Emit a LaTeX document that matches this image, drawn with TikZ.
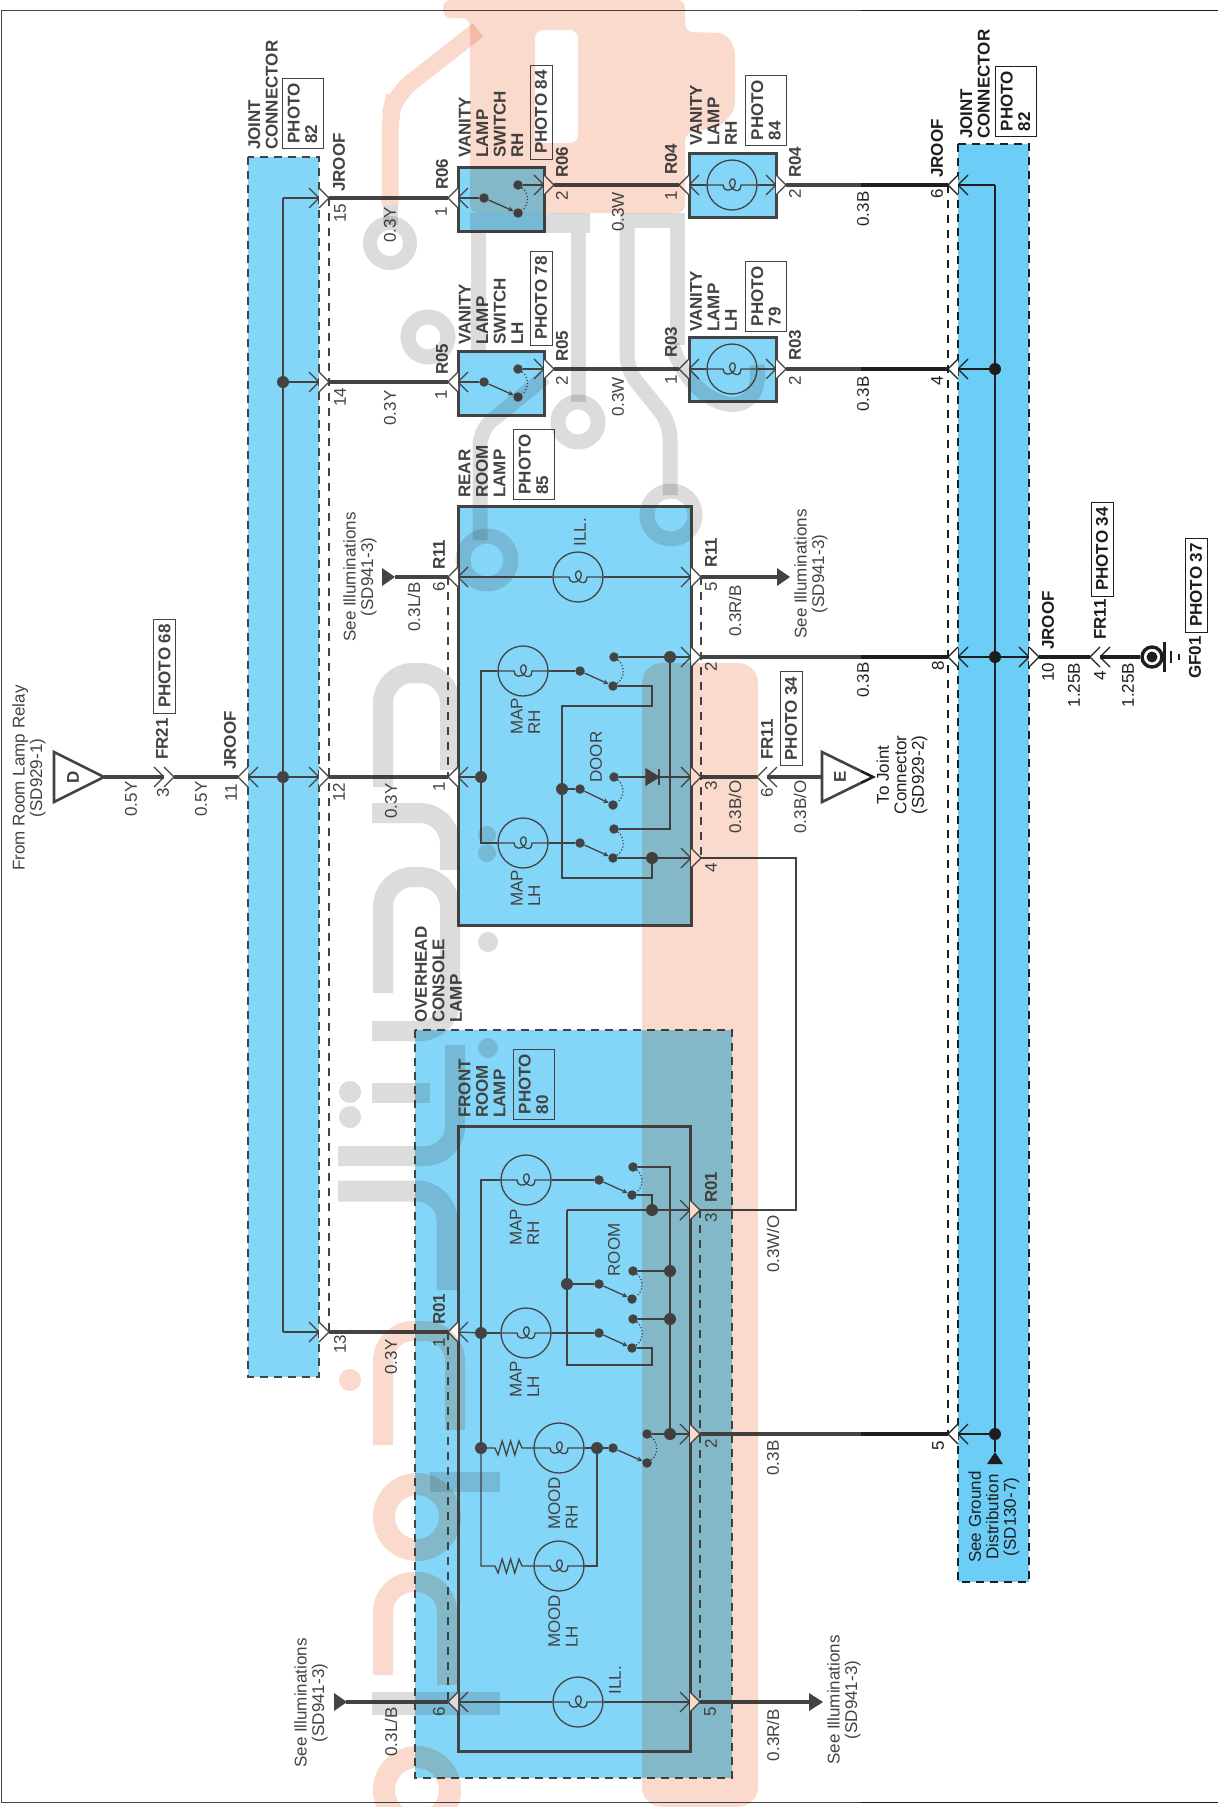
\documentclass[tikz,border=0pt]{standalone}
\usepackage{fontspec}
\setmainfont{Liberation Sans}
\usetikzlibrary{arrows}
\definecolor{ink}{HTML}{1E1E1E}
\definecolor{jcblue}{HTML}{6CCEF7}
\definecolor{wmorange}{HTML}{F8D3C4}
\definecolor{wmgrey}{HTML}{D5D5D5}
\tikzstyle{jcbox} = [fill=jcblue, draw=ink, line width=2.8pt, dash pattern=on 8pt off 6pt]
\tikzstyle{unitbox} = [fill=jcblue, draw=ink, line width=3pt]
\tikzstyle{openbox} = [draw=ink, line width=3pt]
\tikzstyle{wire} = [draw=ink, line width=3.1pt]
\tikzstyle{thinw} = [draw=ink, line width=1.3pt]
\tikzstyle{pinline} = [draw=ink, line width=1.2pt]
\tikzstyle{connline} = [draw=ink, line width=1.2pt, dash pattern=on 8pt off 7pt]
\tikzstyle{jdot} = [circle, fill=ink, inner sep=0pt, minimum size=12pt]
\tikzstyle{cdot} = [circle, fill=ink, inner sep=0pt, minimum size=9.5pt]
\tikzstyle{bulb} = [circle, draw=ink, line width=1.3pt, inner sep=0pt, minimum size=50pt]
\tikzstyle{lab} = [rotate=90, text=ink, font=\fontsize{17}{17.5}\selectfont, align=center, inner sep=0pt]
\tikzstyle{blab} = [rotate=90, text=ink, font=\fontsize{17}{17.5}\selectfont\bfseries, align=left, anchor=west, inner sep=0pt]
\tikzstyle{photobox} = [rotate=90, draw=ink, line width=1pt, text=ink, font=\fontsize{17}{17.5}\selectfont\bfseries, align=left, inner sep=0pt, minimum width=94pt, minimum height=22pt]
\tikzstyle{photoboxb} = [photobox, minimum width=70pt, minimum height=41pt]
\newcommand{\pinR}[3]{
  \coordinate (#1i) at (#2,#3);
  \coordinate (#1o) at (#2+10,#3);
  \draw[pinline] (#2-10,#3-10) -- (#2,#3) -- (#2-10,#3+10);
  \draw[pinline, fill=white] (#2,#3-10) -- (#2+10,#3) -- (#2,#3+10);
}
\newcommand{\pinL}[3]{
  \coordinate (#1i) at (#2,#3);
  \coordinate (#1o) at (#2-10,#3);
  \draw[pinline] (#2+10,#3-10) -- (#2,#3) -- (#2+10,#3+10);
  \draw[pinline, fill=white] (#2,#3-10) -- (#2-10,#3) -- (#2,#3+10);
}
\newcommand{\lampsym}[3]{
  \node (#1) [bulb] at (#2,#3) {};
  \draw[thinw] (#1.west) -- (#2-9,#3) .. controls (#2-9,#3+6) and (#2-2,#3+7) .. (#2+2,#3+2)
    .. controls (#2+5,#3-3) and (#2+2,#3-7) .. (#2,#3-6)
    .. controls (#2-3,#3-5) and (#2-4,#3) .. (#2+1,#3+4)
    .. controls (#2+5,#3+7) and (#2+9,#3+6) .. (#2+9,#3) -- (#1.east);
}
\newcommand{\switchsym}[7]{
  \node (#1a) [cdot] at (#2,#3) {};
  \node (#1b) [cdot] at (#4,#5) {};
  \node (#1c) [cdot] at (#6,#7) {};
  \draw[thinw, ->, >=stealth] (#1a) -- (#1b);
  \draw[line width=1.2pt, draw=ink, dotted] (#1c) to[bend left=55] (#1b);
}
\newcommand{\ressym}[2]{
  -- (#1,#2) -- ++(3,7) -- ++(4.2,-14) -- ++(4.2,14) -- ++(4.2,-14) -- ++(4.2,14) -- ++(4.2,-14) -- ++(3,7)
}
\begin{document}
\begin{tikzpicture}[x=1pt, y=-1pt]
  \useasboundingbox (0,0) rectangle (1218,1807);
  \fill[white] (0,0) rectangle (1218,1807);
  \draw[draw=ink, line width=1pt] (1,10) rectangle (1218,1802);

  \draw[jcbox] (248,157) rectangle (319,1377);
  \draw[jcbox] (958,144) rectangle (1029,1582);
  \draw[jcbox, line width=2.4pt] (415,1030) rectangle (732,1778);
  \draw[unitbox] (458,167) rectangle (544,231);
  \draw[unitbox] (458,351) rectangle (544,415);
  \draw[unitbox] (689,153) rectangle (776,217);
  \draw[unitbox] (689,337) rectangle (776,401);
  \draw[unitbox] (458,506) rectangle (691,925);
  \draw[openbox] (458,1126) rectangle (690,1751);

  \pinR{jlo}{319}{198}
  \pinR{jln}{319}{382}
  \pinR{jlt}{319}{777}
  \pinR{jlh}{319}{1332}
  \pinL{jle}{248}{777}
  \pinL{jrs}{958}{185}
  \pinL{jrf}{958}{369}
  \pinL{jre}{958}{657}
  \pinL{jrv}{958}{1434}
  \pinR{jrt}{1029}{657}
  \pinR{frtwo}{164}{777}
  \pinL{froa}{767}{777}
  \pinL{frob}{1100}{657}
  \pinL{swra}{458}{198}
  \pinR{swrb}{544}{185}
  \pinL{swla}{458}{382}
  \pinR{swlb}{544}{369}
  \pinL{lpra}{689}{185}
  \pinR{lprb}{776}{185}
  \pinL{lpla}{689}{369}
  \pinR{lplb}{776}{369}
  \pinL{rra}{458}{577}
  \pinR{rrb}{691}{577}
  \pinL{rrc}{458}{777}
  \pinR{rrd}{691}{657}
  \pinR{rre}{691}{777}
  \pinR{rrf}{691}{858}
  \pinL{fra}{458}{1332}
  \pinR{frb}{690}{1210}
  \pinR{frc}{690}{1434}
  \pinL{frd}{458}{1702}
  \pinR{fre}{690}{1702}

  \draw[connline] (jloo) -- (jlho);
  \draw[connline] (jrso) -- (jrvo);
  \draw[connline] (rrao) -- (rrco);
  \draw[connline] (rrbo) -- (rrfo);
  \draw[connline] (frao) -- (frdo);
  \draw[connline] (frbo) -- (freo);

  \node (dtri) [minimum size=0pt, inner sep=0pt] at (104,777) {};
  \draw[draw=ink, line width=2.6pt, fill=white, line join=miter] (54,752) -- (dtri.center) -- (54,802) -- cycle;
  \node (dlet) [blab, anchor=center] at (73,777) {D};
  \node (etri) [minimum size=0pt, inner sep=0pt] at (822,777) {};
  \draw[draw=ink, line width=2.6pt, fill=white, line join=miter] (etri.center) -- (822,752) -- (873,777) -- (822,802) -- cycle;
  \node (elet) [blab, anchor=center] at (840,777) {E};
  \node (gcirc) [circle, draw=ink, line width=3.4pt, inner sep=0pt, minimum size=20pt] at (1152,657) {};
  \node (gdot) [circle, fill=ink, inner sep=0pt, minimum size=11pt] at (1152,657) {};
  \draw[draw=ink, line width=3pt] (1164,642) -- (1164,672);
  \draw[draw=ink, line width=1.6pt] (1171,651) -- (1171,663);
  \draw[draw=ink, line width=1.6pt] (1179,654) -- (1179,660);

  \draw[wire] (dtri) -- (frtwoi);
  \draw[wire] (frtwoo) -- (jleo);
  \draw[wire] (jloo) -- (swrao);
  \draw[wire] (jlno) -- (swlao);
  \draw[wire] (jlto) -- (rrco);
  \draw[wire] (jlho) -- (frao);
  \draw[wire] (swrbo) -- (lprao);
  \draw[wire] (swlbo) -- (lplao);
  \draw[wire] (lprbo) -- (jrso);
  \draw[wire] (lplbo) -- (jrfo);
  \draw[wire] (rrdo) -- (jreo);
  \draw[wire] (frco) -- (jrvo);
  \draw[wire] (rreo) -- (froao);
  \draw[wire] (froai) -- (etri);
  \draw[wire] (jrto) -- (frobo);
  \draw[wire] (frobi) -- (gcirc);
  \draw[draw=ink, line width=2.6pt, line join=miter] (rrfo) -- (796,858) -- (796,1210) -- (frbo);

  \coordinate (illrl) at (395,577);
  \coordinate (illrr) at (777,577);
  \coordinate (illfl) at (346,1702);
  \coordinate (illfr) at (809,1702);
  \draw[wire, line width=3.4pt] (illrl) -- (rrao);
  \draw[wire, line width=3.4pt] (rrbo) -- (illrr);
  \draw[wire, line width=3.4pt] (illfl) -- (frdo);
  \draw[wire, line width=3.4pt] (freo) -- (illfr);
  \fill[ink] (382,568) -- (395,577) -- (382,586) -- cycle;
  \fill[ink] (777,568) -- (790,577) -- (777,586) -- cycle;
  \fill[ink] (334,1693) -- (347,1702) -- (334,1711) -- cycle;
  \fill[ink] (809,1693) -- (823,1702) -- (809,1711) -- cycle;

  \node (blc) [jdot] at (283,382) {};
  \node (blm) [jdot] at (283,777) {};
  \draw[thinw] (283,198) -- (283,1332);
  \draw[thinw] (283,198) -- (jloi);
  \draw[thinw] (blc) -- (jlni);
  \draw[thinw] (jlei) -- (jlti);
  \draw[thinw] (283,1332) -- (jlhi);

  \node (brc) [jdot] at (995,369) {};
  \node (brm) [jdot] at (995,657) {};
  \node (brb) [jdot] at (995,1434) {};
  \draw[thinw] (995,185) -- (995,1452);
  \draw[thinw] (995,185) -- (jrsi);
  \draw[thinw] (brc) -- (jrfi);
  \draw[thinw] (jrei) -- (jrti);
  \draw[thinw] (brb) -- (jrvi);
  \fill[ink] (995,1452) -- (1003,1464) -- (987,1464) -- cycle;

  \switchsym{swr}{484}{198}{518}{213}{518}{185}
  \draw[thinw] (swra) -- (swrai);
  \draw[thinw] (swrc) -- (swrbi);
  \switchsym{swl}{484}{382}{518}{397}{518}{369}
  \draw[thinw] (swla) -- (swlai);
  \draw[thinw] (swlc) -- (swlbi);

  \lampsym{lmr}{732}{185}
  \draw[thinw] (lprai) -- (lmr);
  \draw[thinw] (lmr) -- (lprbi);
  \lampsym{lml}{732}{369}
  \draw[thinw] (lplai) -- (lml);
  \draw[thinw] (lml) -- (lplbi);

  \lampsym{rill}{578}{577}
  \draw[thinw] (rrai) -- (rill);
  \draw[thinw] (rill) -- (rrbi);
  \lampsym{rmr}{523}{671}
  \lampsym{rml}{523}{843}
  \switchsym{rsr}{580}{671}{613}{686}{614}{657}
  \switchsym{rsd}{580}{789}{613}{805}{614}{777}
  \switchsym{rsl}{580}{843}{613}{858}{614}{829}
  \node (rjr) [jdot] at (670,657) {};
  \node (rjl) [jdot] at (652,858) {};
  \node (rjd) [jdot] at (562,789) {};
  \node (rjc) [jdot] at (481,777) {};
  \draw[thinw] (rrci) -- (rjc);
  \draw[thinw] (rmr.west) -- (481,671) -- (481,843) -- (rml.west);
  \draw[thinw] (rmr.east) -- (rsra);
  \draw[thinw] (rml.east) -- (rsla);
  \draw[thinw] (rsrc) -- (rrdi);
  \draw[thinw] (rjr) -- (670,829) -- (rslc);
  \draw[thinw] (rsrb) -- (652,686) -- (652,706) -- (562,706) -- (562,878) -- (652,878) -- (rjl);
  \draw[thinw] (rjd) -- (rsda);
  \draw[thinw] (rslb) -- (rrfi);
  \draw[thinw] (rsdc) -- (rrei);
  \draw[draw=ink, fill=ink, line width=1.2pt] (646,769) -- (659,777) -- (646,785) -- cycle;
  \draw[draw=ink, line width=1.6pt] (659,769) -- (659,785);

  \lampsym{fill}{578}{1702}
  \draw[thinw] (frdi) -- (fill);
  \draw[thinw] (fill) -- (frei);
  \lampsym{fmr}{526}{1180}
  \lampsym{fml}{526}{1333}
  \lampsym{fmdr}{559}{1448}
  \lampsym{fmdl}{559}{1566}
  \switchsym{fsr}{599}{1180}{632}{1195}{633}{1167}
  \switchsym{fsd}{599}{1284}{632}{1299}{633}{1271}
  \switchsym{fsl}{599}{1333}{632}{1348}{633}{1319}
  \switchsym{fsm}{613}{1448}{647}{1463}{647}{1434}
  \node (fja) [jdot] at (481,1333) {};
  \node (fjb) [jdot] at (481,1448) {};
  \node (fjc) [jdot] at (597,1448) {};
  \node (fjd) [jdot] at (670,1271) {};
  \node (fje) [jdot] at (670,1319) {};
  \node (fjf) [jdot] at (670,1434) {};
  \node (fjg) [jdot] at (652,1210) {};
  \node (fjh) [jdot] at (567,1284) {};
  \draw[thinw] (frai) -- (fja);
  \draw[thinw] (fja) -- (fml);
  \draw[thinw] (fmr.west) -- (481,1180) -- (fjb);
  \draw[thinw] (fjb) -- (481,1566) \ressym{495}{1566} -- (fmdl.west);
  \draw[thinw] (fjb) \ressym{495}{1448} -- (fmdr.west);
  \draw[thinw] (fmdl.east) -- (597,1566) -- (fjc);
  \draw[thinw] (fmdr.east) -- (fjc) -- (fsma);
  \draw[thinw] (fmr.east) -- (fsra);
  \draw[thinw] (fml.east) -- (fsla);
  \draw[thinw] (fsrc) -- (670,1167) -- (fjf);
  \draw[thinw] (fsdc) -- (fjd);
  \draw[thinw] (fslc) -- (fje);
  \draw[thinw] (fsmc) -- (frci);
  \draw[thinw] (fsrb) -- (652,1195) -- (fjg);
  \draw[thinw] (567,1210) -- (frbi);
  \draw[thinw] (567,1210) -- (567,1365) -- (652,1365) -- (652,1348) -- (fslb);
  \draw[thinw] (fjh) -- (fsda);

  \node (tjl) [blab] at (263,150) {JOINT\\CONNECTOR};
  \node (tjr) [blab] at (975,139) {JOINT\\CONNECTOR};
  \node (tjra) [blab] at (339,192) {JROOF};
  \node (tjrb) [blab] at (937,178) {JROOF};
  \node (tjrc) [blab] at (1048,650) {JROOF};
  \node (tjrd) [blab] at (230,770) {JROOF};
  \node (tvsr) [blab] at (491,158) {VANITY\\LAMP\\SWITCH\\RH};
  \node (tvsl) [blab] at (491,345) {VANITY\\LAMP\\SWITCH\\LH};
  \node (tvlr) [blab] at (713.5,146) {VANITY\\LAMP\\RH};
  \node (tvll) [blab] at (713.5,332) {VANITY\\LAMP\\LH};
  \node (trear) [blab] at (482,498) {REAR\\ROOM\\LAMP};
  \node (tfront) [blab] at (482,1118) {FRONT\\ROOM\\LAMP};
  \node (tover) [blab] at (438.5,1023) {OVERHEAD\\CONSOLE\\LAMP};
  \node (trsa) [blab] at (442,190) {R06};
  \node (trsb) [blab] at (562,178) {R06};
  \node (trfa) [blab] at (671,175) {R04};
  \node (trfb) [blab] at (795,178) {R04};
  \node (trva) [blab] at (442,375) {R05};
  \node (trvb) [blab] at (562,362) {R05};
  \node (trta) [blab] at (671,358) {R03};
  \node (trtb) [blab] at (795,361) {R03};
  \node (trea) [blab] at (439,570) {R11};
  \node (treb) [blab] at (711,568) {R11};
  \node (troa) [blab] at (439,1325) {R01};
  \node (trob) [blab] at (711,1203) {R01};
  \node (tfra) [blab] at (767,760) {FR11};
  \node (tfrb) [blab] at (1100,640) {FR11};
  \node (tfrc) [blab] at (162,760) {FR21};
  \node (tgf) [blab] at (1195,679) {GF01};

  \node (pja) [photoboxb] at (302.5,113.5) {PHOTO\\82};
  \node (pjb) [photoboxb] at (1015.5,101) {PHOTO\\82};
  \node (psr) [photobox] at (541,112) {PHOTO 84};
  \node (psl) [photobox] at (541,298) {PHOTO 78};
  \node (plr) [photoboxb] at (766,110) {PHOTO\\84};
  \node (pll) [photoboxb] at (766,296) {PHOTO\\79};
  \node (pre) [photoboxb] at (533.5,464.5) {PHOTO\\85};
  \node (pfr) [photoboxb] at (533.5,1084) {PHOTO\\80};
  \node (pfa) [photobox] at (164.5,666) {PHOTO 68};
  \node (pfb) [photobox] at (791,718.5) {PHOTO 34};
  \node (pfc) [photobox] at (1102,549) {PHOTO 34};
  \node (pgf) [photobox] at (1196,585) {PHOTO 37};

  \node (na) [lab] at (340,213) {15};
  \node (nb) [lab] at (340,397) {14};
  \node (nc) [lab] at (339,792) {12};
  \node (nd) [lab] at (340,1344) {13};
  \node (ne) [lab] at (231,793) {11};
  \node (nf) [lab] at (163,793) {3};
  \node (ng) [lab] at (441,212) {1};
  \node (nh) [lab] at (441,395) {1};
  \node (ni) [lab] at (439,587) {6};
  \node (nj) [lab] at (439,787) {1};
  \node (nk) [lab] at (439,1343) {1};
  \node (nl) [lab] at (439,1712) {6};
  \node (nm) [lab] at (562,196) {2};
  \node (nn) [lab] at (562,381) {2};
  \node (no) [lab] at (671,196) {1};
  \node (np) [lab] at (671,380) {1};
  \node (nq) [lab] at (795,194) {2};
  \node (nr) [lab] at (795,381) {2};
  \node (ns) [lab] at (937,194) {6};
  \node (nt) [lab] at (937,381) {4};
  \node (nu) [lab] at (938,666) {8};
  \node (nv) [lab] at (938,1446) {5};
  \node (nw) [lab] at (711,587) {5};
  \node (nx) [lab] at (711,667) {2};
  \node (ny) [lab] at (711,786) {3};
  \node (nz) [lab] at (711,868) {4};
  \node (naa) [lab] at (711,1218) {3};
  \node (nab) [lab] at (711,1444) {2};
  \node (nac) [lab] at (710,1712) {5};
  \node (nad) [lab] at (767,793) {6};
  \node (nae) [lab] at (1048,672) {10};
  \node (naf) [lab] at (1100,676) {4};

  \node (wa) [lab] at (131,799) {0.5Y};
  \node (wb) [lab] at (201,799) {0.5Y};
  \node (wc) [lab] at (390,225) {0.3Y};
  \node (wd) [lab] at (390,408) {0.3Y};
  \node (we) [lab] at (391,801) {0.3Y};
  \node (wf) [lab] at (391,1357) {0.3Y};
  \node (wg) [lab] at (618,212) {0.3W};
  \node (wh) [lab] at (618,397) {0.3W};
  \node (wi) [lab] at (863,209) {0.3B};
  \node (wj) [lab] at (863,394) {0.3B};
  \node (wk) [lab] at (863,680) {0.3B};
  \node (wl) [lab] at (773,1458) {0.3B};
  \node (wm) [lab] at (414,607) {0.3L/B};
  \node (wn) [lab] at (391,1732) {0.3L/B};
  \node (wo) [lab] at (735,611) {0.3R/B};
  \node (wp) [lab] at (773,1735) {0.3R/B};
  \node (wq) [lab] at (735,807) {0.3B/O};
  \node (wr) [lab] at (800,807) {0.3B/O};
  \node (ws) [lab] at (773,1244) {0.3W/O};
  \node (wt) [lab] at (1074,685) {1.25B};
  \node (wu) [lab] at (1128,685) {1.25B};

  \node (sa) [lab] at (29,778) {From Room Lamp Relay\\(SD929-1)};
  \node (sb) [lab] at (360,577) {See Illuminations\\(SD941-3)};
  \node (sc) [lab] at (811,574) {See Illuminations\\(SD941-3)};
  \node (sd) [lab] at (311,1703) {See Illuminations\\(SD941-3)};
  \node (se) [lab] at (844,1700) {See Illuminations\\(SD941-3)};
  \node (sf) [lab] at (902,775) {To Joint\\Connector\\(SD929-2)};
  \node (sg) [lab] at (994,1517) {See Ground\\Distribution\\(SD130-7)};

  \node (ca) [lab] at (580,532) {ILL.};
  \node (cb) [lab] at (615,1680) {ILL.};
  \node (cc) [lab, align=left, anchor=west] at (525.5,735) {MAP\\RH};
  \node (cd) [lab, align=left, anchor=west] at (525.5,907) {MAP\\LH};
  \node (ce) [lab, align=left, anchor=west] at (524.5,1246) {MAP\\RH};
  \node (cf) [lab, align=left, anchor=west] at (524.5,1398) {MAP\\LH};
  \node (cg) [lab] at (596,757) {DOOR};
  \node (ch) [lab] at (614,1250) {ROOM};
  \node (ci) [lab, align=left, anchor=west] at (563,1530) {MOOD\\RH};
  \node (cj) [lab, align=left, anchor=west] at (563,1648) {MOOD\\LH};

  \begin{scope}[blend mode=multiply]
    \fill[wmorange, rounded corners=20pt] (642,1807) -- (642,663) -- (758,663) -- (758,1807) -- cycle;
    \fill[wmorange, even odd rule, rounded corners=8pt] (443,0) -- (685,0) -- (685,32) -- (725,33) -- (735,47) -- (735,110) -- (720,127) -- (685,133) -- (685,213) -- (470,213) -- (470,18) -- (443,18) -- cycle (535,30) -- (578,30) -- (578,143) -- (535,143) -- cycle;
    \draw[wmorange, line width=17pt, rounded corners=20pt] (478,30) -- (395,95) -- (390,115) -- (390,205);
    \fill[wmgrey] (470,213) rectangle (590,233);
    \fill[wmgrey] (620,213) rectangle (685,228);
    \draw[wmgrey, line width=15pt] (390,205) -- (390,225);
    \draw[wmgrey, line width=14pt] (390,243) circle[radius=20pt];
    \draw[wmgrey, line width=15pt] (428,337) circle[radius=20pt];
    \draw[wmgrey, line width=15pt] (478,233) -- (478,350);
    \draw[wmgrey, line width=15pt, rounded corners=15pt] (545,377) -- (480,430) -- (480,540);
    \draw[wmgrey, line width=15pt] (578,233) -- (578,402);
    \draw[wmgrey, line width=15pt] (578,422) circle[radius=20pt];
    \draw[wmgrey, line width=15pt, rounded corners=15pt] (627,228) -- (627,370) -- (670,423) -- (670,495);
    \draw[wmgrey, line width=15pt] (677,228) -- (677,345);
    \draw[wmgrey, line width=15pt] (672,345) .. controls (695,415) and (765,425) .. (757,365);
    \draw[wmgrey, line width=15pt] (487,560) circle[radius=24pt];
    \draw[wmgrey, line width=15pt] (671,515) circle[radius=24pt];
    \draw[wmgrey, line width=20pt, rounded corners=30pt] (383,787) -- (383,673) -- (450,673) -- (450,770);
    \draw[wmgrey, line width=20pt, rounded corners=30pt] (372,813) -- (450,813) -- (450,870);
    \draw[wmgrey, line width=20pt, rounded corners=30pt] (383,993) -- (383,877) -- (450,877) -- (450,1031) -- (372,1031);
    \draw[wmgrey, line width=20pt] (372,1093) -- (430,1093);
    \draw[wmgrey, line width=20pt, rounded corners=30pt] (338,1156) -- (455,1156) -- (455,1045);
    \draw[wmgrey, line width=21pt, rounded corners=30pt] (338,1191) -- (447,1191) -- (447,1290);
    \fill[wmgrey] (350,1092) circle[radius=11pt];
    \fill[wmgrey] (350,1117) circle[radius=11pt];
    \fill[wmgrey] (488,942) circle[radius=10pt];
    \fill[wmgrey] (488,1048) circle[radius=10pt];
    \fill[wmgrey] (487,835) circle[radius=9pt];
    \fill[wmgrey] (487,853) circle[radius=9pt];
    \draw[wmorange, line width=20pt, rounded corners=30pt] (383,1445) -- (383,1331) -- (455,1331) -- (455,1430);
    \fill[wmorange] (350,1380) circle[radius=11pt];
    \draw[wmorange, line width=22pt] (417,1517) circle[radius=33pt];
    \fill[wmgrey] (430,1472) rectangle (500,1492);
    \draw[wmorange, line width=20pt, rounded corners=30pt] (383,1675) -- (383,1582) -- (447,1582) -- (447,1685);
    \fill[wmgrey] (372,1692) rectangle (500,1715);
    \draw[wmorange, line width=22pt] (417,1790) circle[radius=33pt];
  \end{scope}
  \fill[white, opacity=0.17] (0,0) rectangle (861,1807);
\end{tikzpicture}
\end{document}
